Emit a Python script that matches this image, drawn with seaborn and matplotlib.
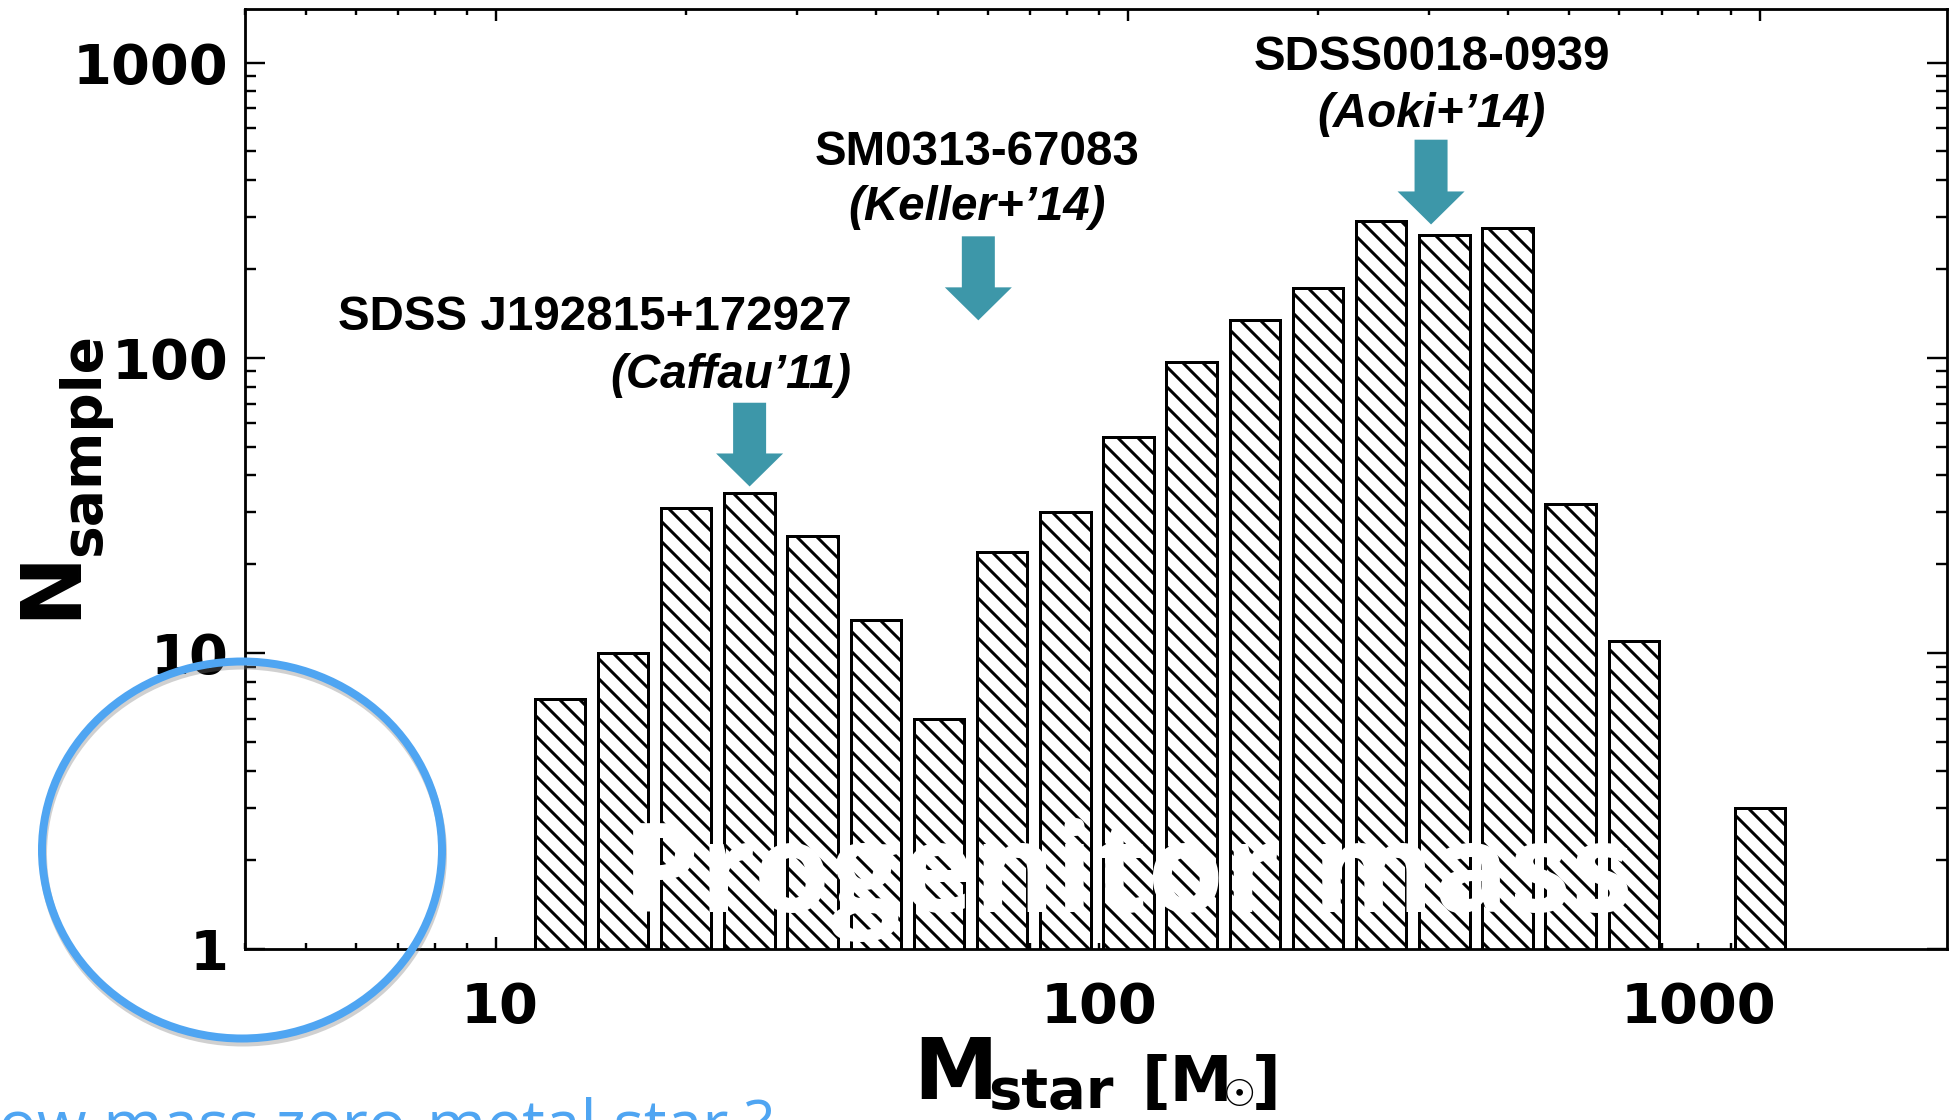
import numpy as np
import pandas as pd
import matplotlib
matplotlib.use("Agg")
import matplotlib.pyplot as plt
import seaborn as sns
from matplotlib.patches import Ellipse
from matplotlib.ticker import NullFormatter
from matplotlib import transforms as mtransforms

# ---- data: number of samples per 0.1 dex bin of progenitor mass ----
log_mass_centers = [1.1, 1.2, 1.3, 1.4, 1.5, 1.6, 1.7, 1.8, 1.9, 2.0,
                    2.1, 2.2, 2.3, 2.4, 2.5, 2.6, 2.7, 2.8, 2.9, 3.0]
n_sample = [7, 10, 31, 35, 25, 13, 6, 22, 30, 54,
            97, 134, 172, 290, 261, 276, 32, 11, 0, 3]

x_ticks = [10, 100, 1000]
x_tick_labels = ["10", "100", "1000"]
y_ticks = [1, 10, 100, 1000]
y_tick_labels = ["1", "10", "100", "1000"]

# observed stars and the mass bins they point to
star_names = ["SDSS J192815+172927", "SM0313-67083", "SDSS0018-0939"]
star_refs = ["(Caffau\u201911)", "(Keller+\u201914)", "(Aoki+\u201914)"]
star_mass = [25.2, 58.0, 302.0]
arrow_tip = [36.7, 134.0, 283.0]
arrow_tail = [70.5, 258.0, 548.0]
name_y = [124.0, 451.0, 943.0]
ref_y = [78.9, 292.0, 604.0]

df = pd.DataFrame({"mass": 10 ** np.array(log_mass_centers), "n": n_sample})

# ---- figure ----
W, H, DPI = 1957, 1120, 120
sns.set_theme(style="ticks")
plt.rcParams["font.family"] = ["DejaVu Sans"]
plt.rcParams["text.color"] = "black"
plt.rcParams["axes.labelcolor"] = "black"
plt.rcParams["xtick.color"] = "black"
plt.rcParams["ytick.color"] = "black"
plt.rcParams["hatch.linewidth"] = 1.8
plt.rcParams["hatch.color"] = "black"


def fx(px):
    return px / W


def fy(py):
    return 1 - py / H


def pt(px):
    return px * 72 / DPI


fig = plt.figure(figsize=(W / DPI, H / DPI), dpi=DPI, facecolor="white")
ax = fig.add_axes([fx(244.6), fy(948.6), fx(1947) - fx(244.6), fy(8.5) - fy(948.6)])

sns.histplot(data=df, x="mass", weights="n", log_scale=True,
             binwidth=0.1, binrange=(1.05, 3.05), shrink=0.8,
             color="white", edgecolor="black", linewidth=pt(3),
             hatch="\\\\", alpha=1, ax=ax)
ax.set_yscale("log")
ax.set_xlim(4, 1980)
ax.set_ylim(1, 1524)
ax.set_xlabel("")
ax.set_ylabel("")

for side in ax.spines.values():
    side.set_linewidth(pt(2.8))
    side.set_color("black")

ax.set_xticks(x_ticks, x_tick_labels)
ax.set_yticks(y_ticks, y_tick_labels)
ax.xaxis.set_minor_formatter(NullFormatter())
ax.yaxis.set_minor_formatter(NullFormatter())
ax.tick_params(which="both", direction="in", top=True, right=True,
               color="black", labelcolor="black", width=pt(2.4))
ax.tick_params(axis="x", which="major", length=pt(12), pad=pt(32),
               labelsize=pt(56))
ax.tick_params(axis="x", which="minor", length=pt(6))
ax.tick_params(axis="y", which="major", length=pt(20), pad=pt(16),
               labelsize=pt(56))
ax.tick_params(axis="y", which="minor", length=pt(11))
for lab in ax.get_xticklabels() + ax.get_yticklabels():
    lab.set_fontweight("bold")

# shift the x tick labels as they sit on the axis
x_label_shift = [4, -29, -61]
for lab, dx in zip(ax.get_xticklabels(), x_label_shift):
    lab.set_transform(lab.get_transform()
                      + mtransforms.ScaledTranslation(dx / DPI, 0, fig.dpi_scale_trans))

# ---- arrows and star labels ----
teal = "#3d97a9"
ann_font = ["Liberation Sans", "DejaVu Sans"]
name_size = pt(47.5)
for i in range(3):
    ax.annotate("", xy=(star_mass[i], arrow_tip[i]),
                xytext=(star_mass[i], arrow_tail[i]),
                arrowprops=dict(arrowstyle=f"simple,head_length={pt(33)},"
                                           f"head_width={pt(67)},tail_width={pt(33)}",
                                mutation_scale=1, color=teal, lw=0,
                                shrinkA=0, shrinkB=0))

ha_list = ["right", "center", "center"]
name_x = [36.5, 57.7, 302.8]
for i in range(3):
    ax.text(name_x[i], name_y[i], star_names[i], ha=ha_list[i], va="baseline",
            fontsize=name_size, fontweight="bold", family=ann_font,
            color="black", zorder=6)
    ax.text(name_x[i], ref_y[i], star_refs[i], ha=ha_list[i], va="baseline",
            fontsize=name_size, fontweight="bold", style="italic",
            family=ann_font, color="black", zorder=6)

# ---- axis titles ----
fig.text(fx(74), fy(619), "N", rotation=90, rotation_mode="anchor",
         ha="left", va="baseline", fontsize=pt(84), fontweight="bold")
fig.text(fx(99), fy(556), "sample", rotation=90, rotation_mode="anchor",
         ha="left", va="baseline", fontsize=pt(55), fontweight="bold")

fig.text(fx(913), fy(1099), "M", ha="left", va="baseline",
         fontsize=pt(85), fontweight="bold")
fig.text(fx(988), fy(1108), "star", ha="left", va="baseline",
         fontsize=pt(56), fontweight="bold")
fig.text(fx(1142), fy(1101), "[M", ha="left", va="baseline",
         fontsize=pt(63), fontweight="bold")
fig.text(fx(1240), fy(1096), "\u2609", ha="center", va="center",
         fontsize=pt(37), fontweight="bold")
fig.text(fx(1281), fy(1101), "]", ha="right", va="baseline",
         fontsize=pt(63), fontweight="bold")

# ---- overlay: white title over the bars ----
fig.text(fx(622), fy(912), "Progenitor mass", ha="left", va="baseline",
         color="white", fontsize=pt(124), fontweight="bold",
         family=["Open Sans", "DejaVu Sans"], zorder=10)

# ---- highlight ring around the low-mass end ----
ring_blue = "#4fa5f2"
shadow = Ellipse((fx(243), fy(854)), 400 / W, 377 / H, transform=fig.transFigure,
                 fill=False, edgecolor="#7a7a7a", lw=pt(8), alpha=0.35, zorder=19)
fig.add_artist(shadow)
ring = Ellipse((fx(242), fy(850)), 400 / W, 377 / H, transform=fig.transFigure,
               fill=False, edgecolor=ring_blue, lw=pt(8), zorder=20)
fig.add_artist(ring)

fig.text(fx(-35), fy(1146), "Low mass zero-metal star ?", ha="left",
         va="baseline", color=ring_blue, fontsize=pt(64),
         family=["Open Sans", "DejaVu Sans"], zorder=20)

fig.savefig("out.png", dpi=DPI, facecolor="white")
